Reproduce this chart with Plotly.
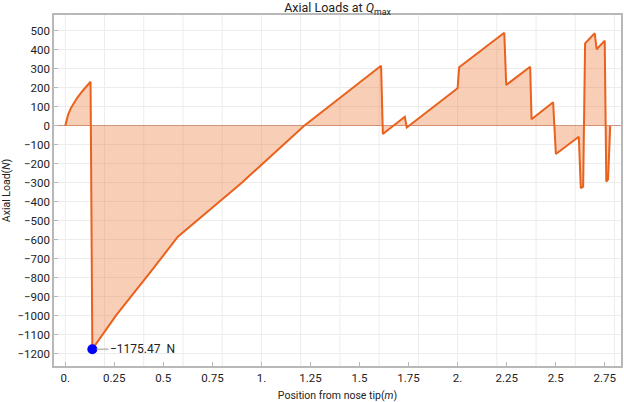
import plotly.graph_objects as go

# ---- data ----
x_pos = [0.0, 0.005, 0.015, 0.03, 0.06, 0.09, 0.129, 0.138, 0.261, 0.43, 0.574,
         0.9, 1.218, 1.610, 1.619, 1.731, 1.741, 2.000, 2.008, 2.238, 2.248,
         2.370, 2.377, 2.487, 2.501, 2.618, 2.628, 2.640, 2.650, 2.699, 2.709,
         2.750, 2.758, 2.767, 2.778]
axial_load = [0, 25, 60, 95, 145, 185, 231, -1175.47, -995, -776, -584,
              -300, 0, 315, -44, 47, -10, 197, 307, 489, 214,
              310, 34, 123, -149, -58, -329, -321, 433, 486, 402,
              447, -294, -282, 0]
min_x = 0.138
min_load = -1175.47
min_label = "\u22121175.47  N"

x_tick_vals = [0, 0.25, 0.5, 0.75, 1.0, 1.25, 1.5, 1.75, 2.0, 2.25, 2.5, 2.75]
x_tick_text = ["0.", "0.25", "0.5", "0.75", "1.", "1.25", "1.5", "1.75", "2.", "2.25", "2.5", "2.75"]
y_tick_vals = list(range(-1200, 501, 100))
grid_x = [0.0, 0.2, 0.4, 0.6, 0.8, 1.0, 1.2, 1.4, 1.6, 1.8, 2.0, 2.2, 2.4, 2.6, 2.8]

FONT = "Roboto"
TXT = "#222222"
GRID = "#ececec"
AXIS = "#b8b8b8"

fig = go.Figure()
fig.add_trace(go.Scatter(
    x=x_pos, y=axial_load, mode="lines",
    line=dict(color="#E9621D", width=2),
    fill="tozeroy", fillcolor="rgba(238,125,65,0.38)",
    hoverinfo="skip", showlegend=False))
fig.add_trace(go.Scatter(
    x=[min_x], y=[min_load], mode="markers",
    marker=dict(color="#0000FF", size=10),
    showlegend=False))

fig.add_annotation(
    x=min_x, y=min_load, text=min_label, showarrow=True, arrowhead=0,
    arrowwidth=1, arrowcolor="#9a9a9a", ax=16, ay=0, xanchor="left",
    standoff=4, font=dict(family=FONT, size=12, color=TXT))

for gx in grid_x:
    fig.add_shape(type="line", xref="x", yref="paper", x0=gx, x1=gx, y0=0, y1=1,
                  line=dict(color=GRID, width=1), layer="below")

fig.update_layout(
    width=624, height=402,
    margin=dict(l=54, r=1, t=15, b=36),
    paper_bgcolor="white", plot_bgcolor="white",
    font=dict(family=FONT, size=11, color=TXT),
    title=dict(text="Axial Loads at <i>Q</i><sub>max</sub>", x=0.5, xref="paper",
               y=1 - 8 / 402, yanchor="middle", yref="container",
               font=dict(family=FONT, size=12.5, color=TXT)),
    showlegend=False,
)
fig.update_xaxes(
    range=[-0.0574, 2.833], tickmode="array", tickvals=x_tick_vals, ticktext=x_tick_text,
    showgrid=False, zeroline=False, showline=True, linecolor=AXIS, linewidth=1.5,
    mirror=True, ticks="inside", ticklen=4, tickcolor=AXIS,
    tickfont=dict(family=FONT, size=11.5, color=TXT),
    title=dict(text="Position from nose tip(<i>m</i>)", standoff=8,
               font=dict(family=FONT, size=10.5, color=TXT)))
fig.update_yaxes(
    range=[-1264, 582], tickmode="array", tickvals=y_tick_vals,
    showgrid=True, gridcolor=GRID, gridwidth=1,
    zeroline=True, zerolinecolor="rgba(190,128,98,0.8)", zerolinewidth=1.3,
    showline=True, linecolor=AXIS, linewidth=1.5, mirror=True,
    ticks="inside", ticklen=4, tickcolor=AXIS,
    tickfont=dict(family=FONT, size=11.5, color=TXT),
    title=dict(text="Axial Load(<i>N</i>)", standoff=6,
               font=dict(family=FONT, size=10.5, color=TXT)))

fig.write_html("out.html", config={"displayModeBar": False},
               post_script="document.body.style.margin='0';document.body.style.padding='0';")
